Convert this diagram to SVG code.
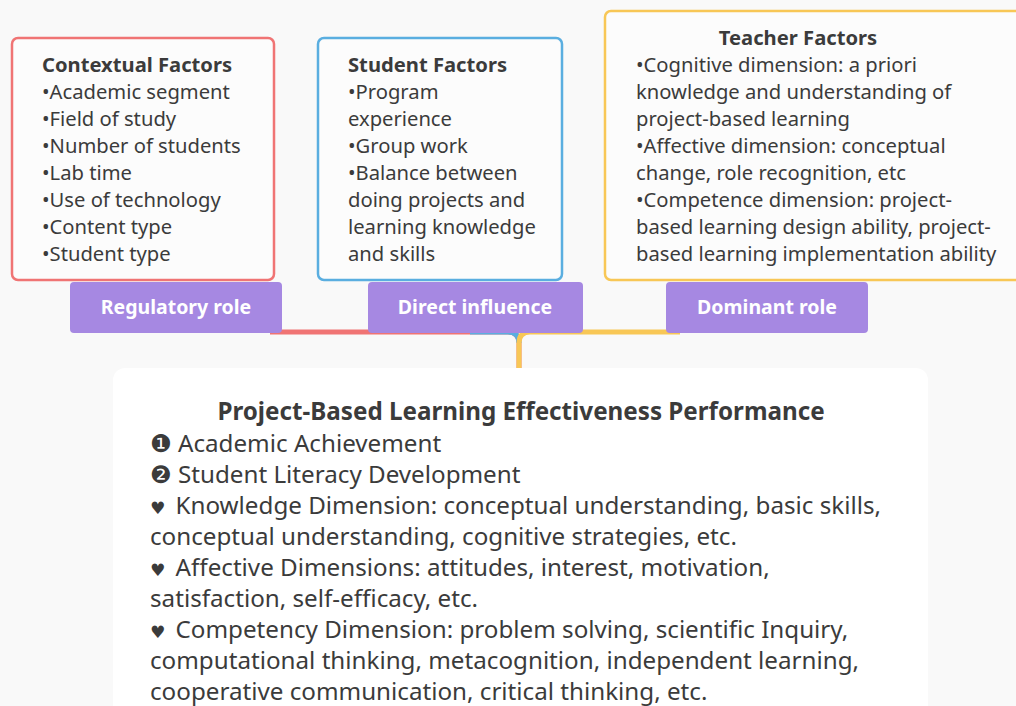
<svg xmlns="http://www.w3.org/2000/svg" width="1016" height="706" viewBox="0 0 1016 706">
<style>
.bg{fill:#f9f9f9}
.box{fill:#fcfcfc;stroke-width:2.5}
.t{font-family:"Noto Sans","Open Sans",sans-serif;font-size:20.2px;fill:#3b3b3b}
.h{font-weight:bold}
.lab{fill:#a688e2}
.lt{font-family:"Noto Sans","Open Sans",sans-serif;font-size:19.5px;font-weight:bold;fill:#ffffff;text-anchor:middle}
.b{font-family:"Noto Sans","DejaVu Sans",sans-serif;font-size:24.2px;fill:#3b3b3b}
.hr{font-size:17px}
.conn{fill:none;stroke-width:5;stroke-linecap:butt}
</style>
<rect class="bg" x="0" y="0" width="1016" height="706"/>
<g id="connectors">
<path class="conn" stroke="#f07474" d="M270 332 H508 Q519 332 519 343 V368"/>
<path class="conn" stroke="#5aaee0" d="M470 332 H508 Q519 332 519 343"/>
<path class="conn" stroke="#f8c756" d="M680 332 H530 Q519 332 519 343 V368"/>
</g>
<g id="contextual">
<rect class="box" x="12" y="38" width="262" height="242" rx="6" stroke="#f07474"/>
<text class="t h" x="42" y="72">Contextual Factors</text>
<text class="t" x="42" y="99">•Academic segment</text>
<text class="t" x="42" y="126">•Field of study</text>
<text class="t" x="42" y="153">•Number of students</text>
<text class="t" x="42" y="180">•Lab time</text>
<text class="t" x="42" y="207">•Use of technology</text>
<text class="t" x="42" y="234">•Content type</text>
<text class="t" x="42" y="261">•Student type</text>
</g>
<g id="student">
<rect class="box" x="318" y="38" width="244" height="242" rx="6" stroke="#5aaee0"/>
<text class="t h" x="348" y="72">Student Factors</text>
<text class="t" x="348" y="99">•Program</text>
<text class="t" x="348" y="126">experience</text>
<text class="t" x="348" y="153">•Group work</text>
<text class="t" x="348" y="180">•Balance between</text>
<text class="t" x="348" y="207">doing projects and</text>
<text class="t" x="348" y="234">learning knowledge</text>
<text class="t" x="348" y="261">and skills</text>
</g>
<g id="teacher">
<rect class="box" x="605" y="11" width="425" height="269" rx="6" stroke="#f8c756"/>
<text class="t h" x="798" y="45" text-anchor="middle">Teacher Factors</text>
<text class="t" x="636" y="72">•Cognitive dimension: a priori</text>
<text class="t" x="636" y="99">knowledge and understanding of</text>
<text class="t" x="636" y="126">project-based learning</text>
<text class="t" x="636" y="153">•Affective dimension: conceptual</text>
<text class="t" x="636" y="180">change, role recognition, etc</text>
<text class="t" x="636" y="207">•Competence dimension: project-</text>
<text class="t" x="636" y="234">based learning design ability, project-</text>
<text class="t" x="636" y="261">based learning implementation ability</text>
</g>
<g id="regulatory">
<rect class="lab" x="70" y="282" width="212" height="51" rx="4"/>
<text class="lt" x="176" y="314">Regulatory role</text>
</g>
<g id="direct">
<rect class="lab" x="368" y="282" width="215" height="51" rx="4"/>
<text class="lt" x="475" y="314">Direct influence</text>
</g>
<g id="dominant">
<rect class="lab" x="666" y="282" width="202" height="51" rx="4"/>
<text class="lt" x="767" y="314">Dominant role</text>
</g>
<g id="performance">
<rect x="113" y="368" width="815" height="360" rx="12" fill="#ffffff"/>
<text class="b h" x="521" y="420" text-anchor="middle" font-size="23">Project-Based Learning Effectiveness Performance</text>
<text class="b" x="150" y="452">❶ Academic Achievement</text>
<text class="b" x="150" y="483">❷ Student Literacy Development</text>
<text class="b" x="150" y="514"><tspan class="hr">♥</tspan><tspan dx="4"> Knowledge Dimension: conceptual understanding, basic skills,</tspan></text>
<text class="b" x="150" y="545">conceptual understanding, cognitive strategies, etc.</text>
<text class="b" x="150" y="576"><tspan class="hr">♥</tspan><tspan dx="4"> Affective Dimensions: attitudes, interest, motivation,</tspan></text>
<text class="b" x="150" y="607">satisfaction, self-efficacy, etc.</text>
<text class="b" x="150" y="638"><tspan class="hr">♥</tspan><tspan dx="4"> Competency Dimension: problem solving, scientific Inquiry,</tspan></text>
<text class="b" x="150" y="669">computational thinking, metacognition, independent learning,</text>
<text class="b" x="150" y="700">cooperative communication, critical thinking, etc.</text>
</g>
</svg>
